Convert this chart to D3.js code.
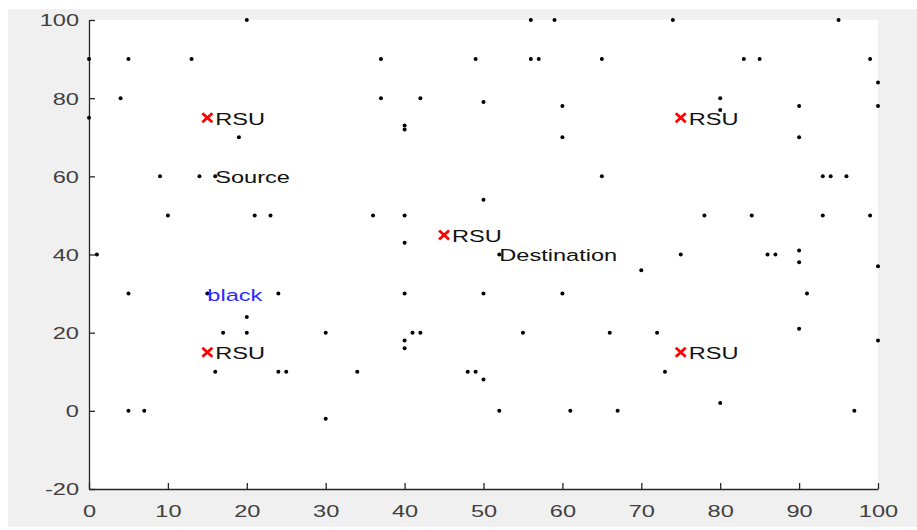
<!doctype html>
<html>
<head>
<meta charset="utf-8">
<style>
  body { margin: 0; background: #fff; }
  text { font-family: "Liberation Sans", Arial, sans-serif; }
</style>
<script src="https://cdn.jsdelivr.net/npm/d3@7"></script>
</head>
<body>
<div id="chart"></div>
<script>

// vehicle nodes (x, y)
var nodeX = [20,56,59,74,95,
  0,5,13,37,49,56,57,65,83,85,99,
  100,
  4,37,42,80,50,60,90,100,80,
  0,40,40,19,60,90,
  9,14,16,65,93,94,96,
  50,
  10,21,23,36,40,78,84,93,99,
  40,90,1,52,75,86,87,90,100,70,
  5,15,24,40,50,60,91,
  20,90,
  17,20,30,41,42,55,66,72,
  40,100,40,
  16,24,25,34,48,49,73,50,
  80,
  5,7,52,61,67,97,
  30];
var nodeY = [100,100,100,100,100,
  90,90,90,90,90,90,90,90,90,90,90,
  84,
  80,80,80,80,79,78,78,78,77,
  75,73,72,70,70,70,
  60,60,60,60,60,60,60,
  54,
  50,50,50,50,50,50,50,50,50,
  43,41,40,40,40,40,40,38,37,36,
  30,30,30,30,30,30,30,
  24,21,
  20,20,20,20,20,20,20,20,
  18,18,16,
  10,10,10,10,10,10,10,8,
  2,
  0,0,0,0,0,0,
  -2];

// road side units
var rsuX = [15, 75, 45, 15, 75];
var rsuY = [75, 75, 45, 15, 15];

// text labels
var labelText = ["RSU", "RSU", "RSU", "RSU", "RSU", "Source", "Destination", "black"];
var labelX = [16, 76, 46, 16, 76, 16, 52, 15];
var labelY = [75, 75, 45, 15, 15, 60, 40, 30];
var labelColor = ["#111", "#111", "#111", "#111", "#111", "#111", "#111", "#2b2bff"];

var xTicks = [0, 10, 20, 30, 40, 50, 60, 70, 80, 90, 100];
var yTicks = [-20, 0, 20, 40, 60, 80, 100];

var W = 917, H = 530;
var stretch = 1.43;

var svg = d3.select("#chart").append("svg")
  .attr("width", W)
  .attr("height", H);

// figure background
svg.append("rect")
  .attr("x", 8).attr("y", 9)
  .attr("width", W - 8).attr("height", 518)
  .attr("fill", "#f0f0f0");

var x = d3.scaleLinear().domain([0, 100]).range([89, 878]);
var y = d3.scaleLinear().domain([-20, 100]).range([489, 20]);

// axes box
svg.append("rect")
  .attr("x", x(0)).attr("y", y(100))
  .attr("width", x(100) - x(0)).attr("height", y(-20) - y(100))
  .attr("fill", "#fff");

var fmt = function(d) { return String(d); };

var xAxis = svg.append("g")
  .attr("transform", "translate(0," + y(-20) + ")")
  .call(d3.axisBottom(x).tickValues(xTicks).tickFormat(fmt).tickSizeInner(-6).tickSizeOuter(0));

var yAxis = svg.append("g")
  .attr("transform", "translate(" + x(0) + ",0)")
  .call(d3.axisLeft(y).tickValues(yTicks).tickFormat(fmt).tickSizeInner(-6).tickSizeOuter(0));

[xAxis, yAxis].forEach(function(g) {
  g.select(".domain").attr("stroke", "#262626").attr("stroke-width", 1.3);
  g.selectAll(".tick line").attr("stroke", "#262626").attr("stroke-width", 1.3);
  g.selectAll(".tick text")
    .attr("fill", "#404040")
    .style("font-size", "16.5px")
    .attr("x", 0).attr("y", 0).attr("dy", null);
});

xAxis.selectAll(".tick text")
  .attr("text-anchor", "middle")
  .attr("transform", "translate(0,28) scale(" + stretch + ",1)");

yAxis.selectAll(".tick text")
  .attr("text-anchor", "end")
  .attr("dy", "0.36em")
  .attr("transform", "translate(-10,0) scale(" + stretch + ",1)");

// nodes
svg.append("g").selectAll("circle")
  .data(d3.range(nodeX.length))
  .enter().append("circle")
  .attr("cx", function(i) { return x(nodeX[i]); })
  .attr("cy", function(i) { return y(nodeY[i]); })
  .attr("r", 2)
  .attr("fill", "#000");

// labels
svg.append("g").selectAll("text")
  .data(d3.range(labelText.length))
  .enter().append("text")
  .attr("transform", function(i) {
    return "translate(" + x(labelX[i]) + "," + (y(labelY[i]) + 1) + ") scale(" + stretch + ",1)";
  })
  .attr("dy", "0.36em")
  .style("font-size", "16.5px")
  .attr("fill", function(i) { return labelColor[i]; })
  .text(function(i) { return labelText[i]; });

// RSU markers
var rsu = svg.append("g").selectAll("g")
  .data(d3.range(rsuX.length))
  .enter().append("g")
  .attr("transform", function(i) { return "translate(" + x(rsuX[i]) + "," + y(rsuY[i]) + ")"; });

rsu.append("path")
  .attr("d", "M-5,-4.5L5,4.5M-5,4.5L5,-4.5")
  .attr("stroke", "#ff0000")
  .attr("stroke-width", 2.8)
  .attr("fill", "none");

</script>
</body>
</html>
